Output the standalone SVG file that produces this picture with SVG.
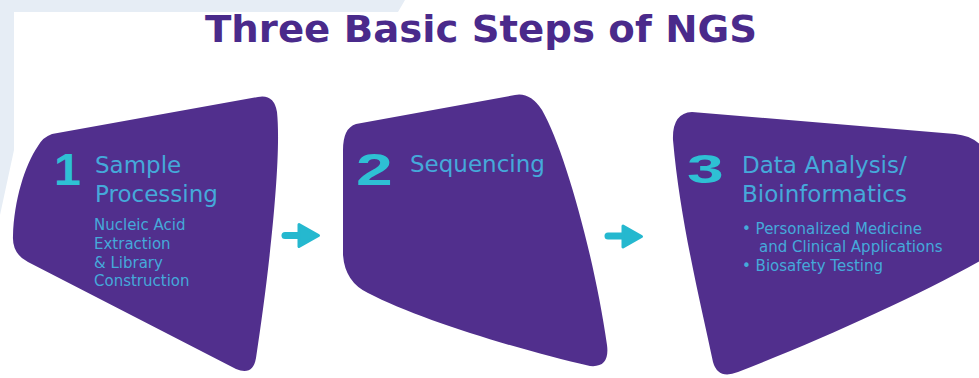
<svg xmlns="http://www.w3.org/2000/svg" width="979" height="378" viewBox="0 0 979 378">
<style>
.bg{fill:#e6edf5}
.blob{fill:#512f8d}
.title{font-family:"DejaVu Sans",Verdana,sans-serif;font-weight:bold;font-size:38px;fill:#4a2a8b}
.head{font-family:"DejaVu Sans",Verdana,sans-serif;font-size:23px;fill:#45a9da}
.sub{font-family:"DejaVu Sans",Verdana,sans-serif;font-size:15px;fill:#45a9da}
.num{font-family:"Liberation Sans",Arial,sans-serif;font-weight:bold;font-size:44px;fill:#2ec0d4}
.shaft{stroke:#25b8cf;stroke-width:7;stroke-linecap:round;fill:none}
.tip{fill:#25b8cf;stroke:#25b8cf;stroke-width:3;stroke-linejoin:round}
</style>
<rect width="979" height="378" fill="#ffffff"/>
<path class="bg" d="M0 0 H405 L398 12 H14 V150 L0 215 Z"/>
<text class="title" x="481" y="42" text-anchor="middle" textLength="552" lengthAdjust="spacingAndGlyphs">Three Basic Steps of NGS</text>

<g id="step1">
<path class="blob" d="M52 134 L258 97 Q274 94 277 112 C282 160 268 280 256 358 Q253 376 236 369 L28 262 Q12 254 13 236 C14 200 25 165 38 146 Q43 137 52 134 Z"/>
<text class="num" transform="translate(54,185) scale(1.1,1)">1</text>
<text class="head" x="95" y="173">Sample</text>
<text class="head" x="95" y="202">Processing</text>
<text class="sub" x="94" y="230">Nucleic Acid</text>
<text class="sub" x="94" y="249">Extraction</text>
<text class="sub" x="94" y="267.5">&amp; Library</text>
<text class="sub" x="94" y="286">Construction</text>
</g>

<g id="step2">
<path class="blob" d="M356 124 L515 95 Q530 92 542 110 C565 150 595 260 607 345 Q610 368 590 366 C520 350 420 320 368 293 Q345 282 343 255 L343 150 Q343 128 356 124 Z"/>
<text class="num" transform="translate(356,185) scale(1.5,1)">2</text>
<text class="head" x="410" y="172">Sequencing</text>
</g>

<g id="step3">
<path class="blob" d="M692 112 L955 134 Q975 136 985 150 L985 258 C920 295 820 340 738 372 Q718 380 713 362 C700 300 680 220 673 140 Q672 113 692 112 Z"/>
<text class="num" transform="translate(687,183) scale(1.5,0.93)">3</text>
<text class="head" x="742" y="173">Data Analysis/</text>
<text class="head" x="742" y="202">Bioinformatics</text>
<text class="sub" x="742" y="233.5">• Personalized Medicine</text>
<text class="sub" x="759" y="252">and Clinical Applications</text>
<text class="sub" x="742" y="270.5">• Biosafety Testing</text>
</g>

<g id="connectors">
<line class="shaft" x1="285" y1="235.5" x2="300" y2="235.5"/>
<path class="tip" d="M299 224.5 L318.5 235.5 L299 246.5 Z"/>
<line class="shaft" x1="608" y1="236" x2="624" y2="236"/>
<path class="tip" d="M623 226 L641.5 236.5 L623 247 Z"/>
</g>
</svg>
